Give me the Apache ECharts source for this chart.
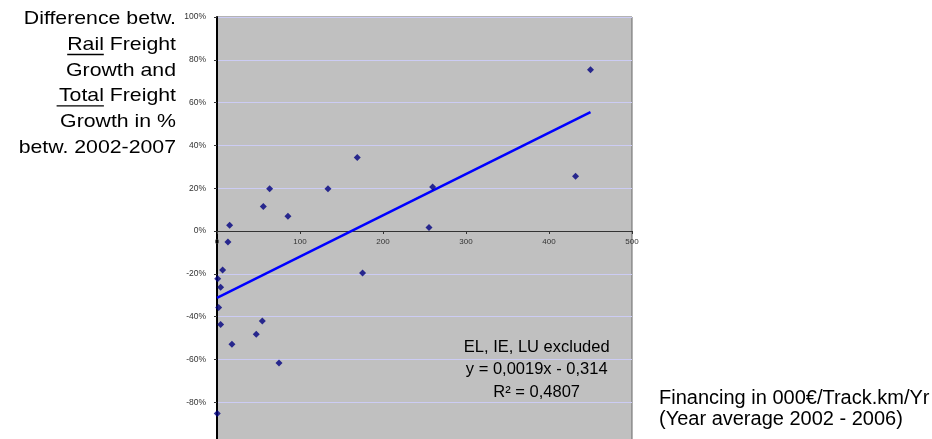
<!DOCTYPE html>
<html>
<head>
<meta charset="utf-8">
<script src="https://cdn.jsdelivr.net/npm/echarts@6/dist/echarts.min.js"></script>
<style>html,body{margin:0;padding:0;background:#fff;overflow:hidden;}#c{width:932px;height:439px;}</style>
</head>
<body>
<div id="c"></div>
<script>
// Financing (000€/Track.km/Yr) per country
const financing = [15.2, 55.8, 63.4, 85.5, 133.7, 169, 255.4, 259.8, 432, 450, 13.2, 6.8, 0.8, 4.4, 2, 4.4, 18, 47.3, 54.6, 74.7, 175.4, 0.3];
// Difference rail vs total freight growth (%)
const growthDiff = [2.7, 11.4, 19.8, 6.9, 19.8, 34.3, 1.6, 20.6, 25.6, 75.4, -5.1, -18.2, -22.3, -26.3, -35.8, -43.7, -52.9, -48.3, -42, -61.7, -19.6, -85.3];
// Linear trendline end points (x, y%)
const trendX = [0, 450];
const trendY = [-31.2, 55.5];
const yTicks = [-100, -80, -60, -40, -20, 0, 20, 40, 60, 80, 100];
const xTicks = [0, 100, 200, 300, 400, 500];

const chart = echarts.init(document.getElementById('c'), null, {renderer: 'canvas'});
const F = 'Liberation Sans, Arial, sans-serif';
const yTitleLines = ['Difference betw.', 'Rail Freight', 'Growth and', 'Total Freight', 'Growth in %', 'betw. 2002-2007'];
const lineCenters = [19, 44.7, 70.4, 96.1, 121.7, 147.3];
const graphics = [];
yTitleLines.forEach((t, i) => {
  graphics.push({type: 'text', x: 176, y: lineCenters[i], scaleX: 1.12,
    style: {text: t, font: '19px ' + F, fill: '#000', textAlign: 'right', textVerticalAlign: 'middle'}});
});
// underlines for "Rail" and "Total"
graphics.push({type: 'line', shape: {x1: 67.2, y1: 54.5, x2: 103.8, y2: 54.5}, style: {stroke: '#000', lineWidth: 1.4}});
graphics.push({type: 'line', shape: {x1: 56.6, y1: 105.9, x2: 103.9, y2: 105.9}, style: {stroke: '#000', lineWidth: 1.4}});
graphics.push({type: 'text', x: 659, y: 398.3, style: {text: 'Financing in 000€/Track.km/Yr', font: '20px ' + F, fill: '#000', textVerticalAlign: 'middle'}});
graphics.push({type: 'text', x: 659, y: 419.5, style: {text: '(Year average 2002 - 2006)', font: '20px ' + F, fill: '#000', textVerticalAlign: 'middle'}});
const ann = ['EL, IE, LU excluded', 'y = 0,0019x - 0,314', 'R² = 0,4807'];
const annY = [347.3, 369.3, 392.3];
ann.forEach((t, i) => graphics.push({type: 'text', x: 536.7, y: annY[i], z: 10,
  style: {text: t, font: '16.5px ' + F, fill: '#000', textAlign: 'center', textVerticalAlign: 'middle'}}));

chart.setOption({
  animation: false,
  backgroundColor: '#fff',
  grid: {left: 217, top: 17, width: 415, height: 428, show: true, backgroundColor: '#C0C0C0', borderColor: '#666', borderWidth: 1, containLabel: false, outerBoundsMode: 'none'},
  xAxis: {
    type: 'value', min: xTicks[0], max: xTicks[xTicks.length - 1], interval: 100,
    position: 'bottom', offset: -214,
    axisLine: {onZero: false, lineStyle: {color: '#333', width: 1}},
    axisTick: {show: true, inside: false, length: 3, lineStyle: {color: '#333'}},
    axisLabel: {fontSize: 8, fontFamily: F, color: '#333', margin: 7},
    splitLine: {show: false}
  },
  yAxis: {
    type: 'value', min: yTicks[0], max: yTicks[yTicks.length - 1], interval: 20,
    axisLine: {show: true, onZero: false, lineStyle: {color: '#000', width: 2}},
    axisTick: {show: true, length: 3, lineStyle: {color: '#333'}},
    axisLabel: {fontSize: 8.5, fontFamily: F, color: '#333', margin: 11, formatter: '{value}%'},
    splitLine: {show: true, lineStyle: {color: '#CCCCF4', width: 1}}
  },
  series: [
    {type: 'line', data: trendX.map((x, i) => [x, trendY[i]]), symbol: 'none', lineStyle: {color: '#0000FF', width: 2.5}, z: 3},
    {type: 'scatter', data: financing.map((x, i) => [x, growthDiff[i]]), symbol: 'diamond', symbolSize: 7, itemStyle: {color: '#000080'}, z: 4}
  ],
  graphic: graphics
});
</script>
</body>
</html>
